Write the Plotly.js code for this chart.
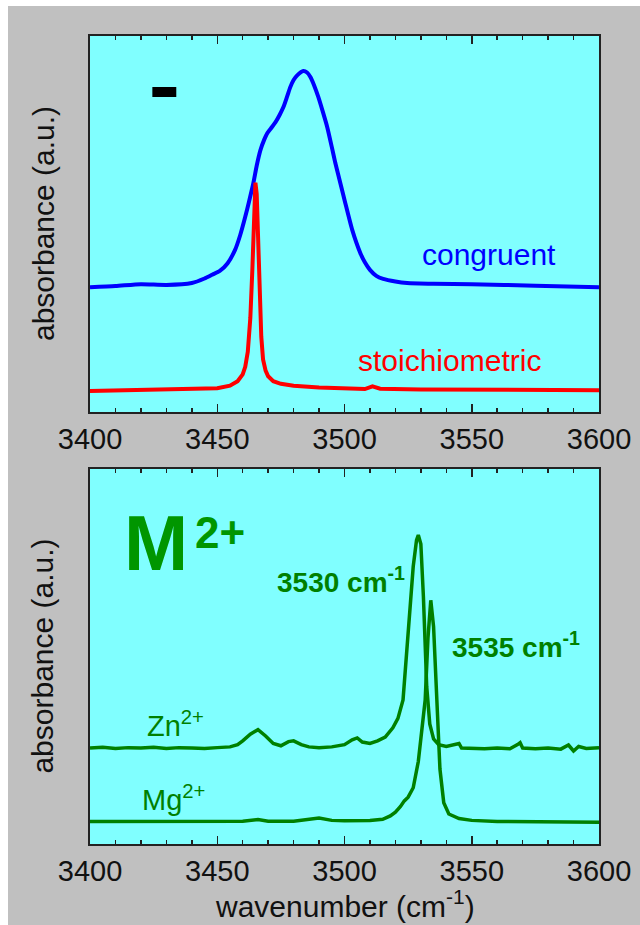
<!DOCTYPE html>
<html>
<head>
<meta charset="utf-8">
<script src="https://cdn.plot.ly/plotly-3.0.1.min.js"></script>
<style>
  html, body { margin: 0; padding: 0; background: #ffffff; }
  #chart { position: absolute; left: 8px; top: 6px; width: 632px; height: 919px; }
</style>
</head>
<body>
<div id="chart"></div>
<script>
// ---------- data ----------
const congruentX = [3400,3410,3420,3430,3440,3445,3448,3451,3454,3457,3459,3461,3462.5,3464.2,3465.5,3467,3468.5,3469.7,3471.5,3472.9,3474.5,3476,3477.5,3478.7,3480,3481.5,3483.8,3485.3,3486.6,3488,3489.7,3491.5,3493.2,3495,3496.4,3498.5,3500.3,3503,3506.2,3508,3510,3512.5,3515.2,3520,3524.6,3535,3550,3575,3600];
const congruentY = [33.2,33.5,34.0,33.8,34.3,35.5,36.5,37.5,39.5,43.1,47,51.9,56,60.9,65.5,69.7,72.5,74.2,75.8,77.1,79,81.1,84,86.4,88.3,89.6,90.7,90.3,89.1,87,83.8,79.8,75.8,70.5,66.2,60.5,55.6,48.5,42.3,39.8,37.8,36.2,35.4,34.7,34.3,34.1,34.0,33.6,33.2];

const stoichX = [3400,3420,3440,3450,3455,3458,3460,3461,3462,3463,3463.8,3464.5,3465,3465.5,3466,3466.6,3467.3,3468,3469,3470,3472,3475,3480,3490,3500,3508,3511,3514,3530,3560,3600];
const stoichY = [5.6,5.8,6.0,6.3,7.0,8.2,10,12,16,25,38,55,61,58,45,30,20,14,11,9.5,8.2,7.5,7.0,6.5,6.2,6.1,6.8,6.2,6.0,5.9,5.8];

const znX = [3400,3405,3410,3415,3420,3425,3430,3435,3440,3445,3450,3455,3458,3460,3463,3466,3469,3472,3475,3478,3480,3483,3486,3490,3495,3500,3503,3505,3507,3510,3513,3516,3519,3521,3523,3525,3527,3528.3,3529,3530,3531,3532.3,3533.5,3535,3537,3540,3545,3546,3550,3555,3560,3565,3568,3569,3570,3575,3580,3585,3588,3590,3592,3595,3600];
const znY = [25.6,25.8,25.5,25.7,25.6,25.8,25.5,25.7,25.6,25.5,25.7,25.9,26.5,27.5,29.3,30.5,28.8,26.8,26.2,27.3,27.5,26.5,25.9,25.7,25.9,26.5,27.8,28.3,27.2,26.8,27.5,28.5,31,33.5,38.4,56,74,81,82.4,80,66,42,32,28,26.5,26,26.8,25.6,25.5,25.4,25.6,25.4,26.5,27.0,25.6,25.4,25.6,25.3,26.4,24.8,26,25.5,25.7];

const mgX = [3400,3430,3460,3466,3470,3480,3490,3495,3500,3510,3515,3518,3520,3522,3523.5,3525,3527,3529,3530.5,3531.7,3532.8,3533.9,3535,3536.3,3537.5,3539,3541,3545,3550,3560,3600];
const mgY = [6.0,6.0,6.1,6.5,6.1,6.1,6.9,6.3,6.2,6.3,6.6,7.5,8.5,10,11.5,12.5,15,22,32,38.4,55,65,58,38.4,20,11,8,6.8,6.3,6.0,5.8];

const scaleBarX = [3424.5, 3433.9];
const scaleBarY = [85.1, 85.1];

const xTickVals = [3400, 3450, 3500, 3550, 3600];
const xTickText = ['3400', '3450', '3500', '3550', '3600'];

// ---------- styling ----------
const FONT = 'Arial, "Liberation Sans", sans-serif';
const GREEN = '#008000';

const traces = [
  { x: congruentX, y: congruentY, xaxis: 'x', yaxis: 'y', mode: 'lines', name: 'congruent',
    line: { color: '#0000ff', width: 4, shape: 'spline', smoothing: 0.6 } },
  { x: stoichX, y: stoichY, xaxis: 'x', yaxis: 'y', mode: 'lines', name: 'stoichiometric',
    line: { color: '#ff0000', width: 4 } },
  { x: scaleBarX, y: scaleBarY, xaxis: 'x', yaxis: 'y', mode: 'lines', name: 'bar',
    line: { color: '#000000', width: 10 } },
  { x: znX, y: znY, xaxis: 'x2', yaxis: 'y2', mode: 'lines', name: 'Zn',
    line: { color: GREEN, width: 3.5 } },
  { x: mgX, y: mgY, xaxis: 'x2', yaxis: 'y2', mode: 'lines', name: 'Mg',
    line: { color: GREEN, width: 3.5 } }
];

function xAxis(anchor) {
  return {
    anchor: anchor, range: [3400, 3600], tickvals: xTickVals, ticktext: xTickText,
    ticks: 'inside', ticklen: 8, tickwidth: 1.5, tickcolor: '#222',
    minor: { dtick: 10, tick0: 3400, ticks: 'inside', ticklen: 4, tickwidth: 1.5, tickcolor: '#222' },
    showline: true, linewidth: 2, linecolor: '#222', mirror: 'ticks',
    showgrid: false, zeroline: false,
    tickfont: { family: FONT, size: 29, color: '#111' }
  };
}
function yAxis(anchor, domain) {
  return {
    anchor: anchor, domain: domain, range: [0, 100],
    showline: true, linewidth: 2, linecolor: '#222', mirror: true,
    ticks: '', showticklabels: false, showgrid: false, zeroline: false
  };
}

const layout = {
  width: 632, height: 919,
  margin: { l: 82, r: 41, t: 30, b: 81 },
  paper_bgcolor: '#c0c0c0', plot_bgcolor: '#80ffff',
  showlegend: false,
  font: { family: FONT, size: 30, color: '#111' },
  xaxis: xAxis('y'),
  yaxis: yAxis('x', [0.5347, 1]),
  xaxis2: xAxis('y2'),
  yaxis2: yAxis('x2', [0, 0.4641]),
  annotations: [
    { xref: 'paper', yref: 'paper', x: -0.0923, y: 0.7673, text: 'absorbance (a.u.)', textangle: -90,
      showarrow: false, xanchor: 'center', yanchor: 'middle', font: { family: FONT, size: 30, color: '#111' } },
    { xref: 'paper', yref: 'paper', x: -0.0923, y: 0.232, text: 'absorbance (a.u.)', textangle: -90,
      showarrow: false, xanchor: 'center', yanchor: 'middle', font: { family: FONT, size: 30, color: '#111' } },
    { xref: 'paper', yref: 'paper', x: 0.5, y: -0.0745, text: 'wavenumber (cm<sup>-1</sup>)',
      showarrow: false, xanchor: 'center', yanchor: 'middle', font: { family: FONT, size: 30, color: '#111' } },
    { xref: 'x', yref: 'y', x: 3556.6, y: 42.0, text: 'congruent', showarrow: false,
      xanchor: 'center', yanchor: 'middle', font: { family: FONT, size: 30, color: '#0000ff' } },
    { xref: 'x', yref: 'y', x: 3541.3, y: 13.6, text: 'stoichiometric', showarrow: false,
      xanchor: 'center', yanchor: 'middle', font: { family: FONT, size: 30, color: '#ff0000' } },
    { xref: 'x2', yref: 'y2', x: 3412.6, y: 80.3, text: '<b>M</b>', showarrow: false,
      xanchor: 'left', yanchor: 'middle', font: { family: FONT, size: 77, color: '#009600' } },
    { xref: 'x2', yref: 'y2', x: 3440.3, y: 83.2, text: '<b>2+</b>', showarrow: false,
      xanchor: 'left', yanchor: 'middle', font: { family: FONT, size: 44, color: '#009600' } },
    { xref: 'x2', yref: 'y2', x: 3472.8, y: 70.3, text: '<b>3530 cm<sup>-1</sup></b>', showarrow: false,
      xanchor: 'left', yanchor: 'middle', font: { family: FONT, size: 28, color: GREEN } },
    { xref: 'x2', yref: 'y2', x: 3541.5, y: 53, text: '<b>3535 cm<sup>-1</sup></b>', showarrow: false,
      xanchor: 'left', yanchor: 'middle', font: { family: FONT, size: 28, color: GREEN } },
    { xref: 'x2', yref: 'y2', x: 3421.8, y: 32, text: 'Zn<sup>2+</sup>', showarrow: false,
      xanchor: 'left', yanchor: 'middle', font: { family: FONT, size: 29, color: GREEN } },
    { xref: 'x2', yref: 'y2', x: 3419.8, y: 12.3, text: 'Mg<sup>2+</sup>', showarrow: false,
      xanchor: 'left', yanchor: 'middle', font: { family: FONT, size: 29, color: GREEN } }
  ]
};

Plotly.newPlot('chart', traces, layout, { staticPlot: true, displayModeBar: false });
</script>
</body>
</html>
